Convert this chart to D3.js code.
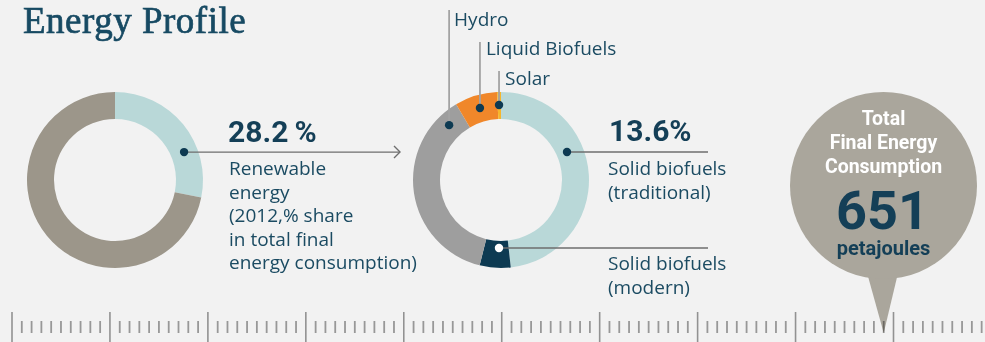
<!DOCTYPE html>
<html>
<head>
<meta charset="utf-8">
<script src="https://cdn.jsdelivr.net/npm/d3@7/dist/d3.min.js"></script>
<style>
  html, body { margin: 0; padding: 0; background: #f2f2f2; }
  svg { display: block; }
  .lbl { font-family: "Open Sans", "DejaVu Sans", sans-serif; font-size: 19px; fill: #1b4b62; }
  .num { font-family: Roboto, "Open Sans", sans-serif; font-weight: 700; fill: #143f57; }
</style>
</head>
<body>
<svg id="chart" width="985" height="342"></svg>
<script>
// Share of renewables in total final energy consumption (2012, %)
const shareCategories = ["Renewable", "Non-renewable"];
const shareValues = [28.2, 71.8];

// Renewable breakdown, % of total final energy consumption
const mixCategories = ["Solid biofuels (traditional)", "Solid biofuels (modern)", "Hydro", "Liquid Biofuels", "Solar"];
const mixValues = [13.6, 1.6, 10.6, 2.2, 0.2];

// Total final energy consumption
const totalValue = 651;
const totalUnit = "petajoules";

// Ruler along the bottom
const rulerTicks = d3.range(0, 100);

const svg = d3.select("#chart");
const W = 985, H = 342;
svg.append("rect").attr("width", W).attr("height", H).attr("fill", "#f2f2f2");

// Title (regular serif, slightly thickened with a stroke)
svg.append("text")
  .attr("x", 23).attr("y", 33)
  .style("font-family", "'Liberation Serif', 'Times New Roman', serif")
  .style("font-size", "37px")
  .style("letter-spacing", "0.5px")
  .attr("fill", "#174a63")
  .attr("stroke", "#174a63")
  .attr("stroke-width", 0.7)
  .text("Energy Profile");

const pie = d3.pie().sort(null).value(d => d);
const arc = d3.arc().innerRadius(61).outerRadius(88);
const rad = d => d * Math.PI / 180;
const polar = (cx, cy, deg, r) => [cx + r * Math.sin(rad(deg)), cy - r * Math.cos(rad(deg))];

// ---- Left donut: renewable share ----
const shareColor = d3.scaleOrdinal().domain(shareCategories).range(["#b9d8d8", "#9c968a"]);
const g1 = svg.append("g").attr("transform", "translate(115,180)");
g1.selectAll("path").data(pie(shareValues)).join("path")
  .attr("d", arc)
  .attr("fill", (d, i) => shareColor(shareCategories[i]));

const dot1 = polar(115, 180, 68, 74.5);
svg.append("line")
  .attr("x1", dot1[0]).attr("y1", dot1[1]).attr("x2", 400).attr("y2", dot1[1])
  .attr("stroke", "#6e6e6e").attr("stroke-width", 1.4);
svg.append("path")
  .attr("d", `M394,${dot1[1] - 6}L400,${dot1[1]}L394,${dot1[1] + 6}`)
  .attr("fill", "none").attr("stroke", "#6e6e6e").attr("stroke-width", 1.4);
svg.append("circle").attr("cx", dot1[0]).attr("cy", dot1[1]).attr("r", 4.2).attr("fill", "#0d3a52");

svg.append("text").attr("class", "num").attr("x", 228).attr("y", 142)
  .style("font-size", "30px").text(d3.format(".1f")(shareValues[0]) + "\u2009%");
const leftLines = ["Renewable", "energy", "(2012,% share", "in total final", "energy consumption)"];
svg.append("text").attr("class", "lbl").attr("x", 229).attr("y", 175)
  .selectAll("tspan").data(leftLines).join("tspan")
  .attr("x", 229).attr("dy", (d, i) => i === 0 ? 0 : 23.6).text(d => d);

// ---- Middle donut: renewable breakdown ----
const mixColor = d3.scaleOrdinal().domain(mixCategories)
  .range(["#b9d8d8", "#0d3a52", "#9e9e9e", "#f0872a", "#f6b62c"]);
const cx2 = 501, cy2 = 180;
const g2 = svg.append("g").attr("transform", `translate(${cx2},${cy2})`);
g2.selectAll("path").data(pie(mixValues)).join("path")
  .attr("d", arc)
  .attr("fill", (d, i) => mixColor(mixCategories[i]));

// Callouts above the ring
const topCallouts = [
  { name: "Hydro", angle: 316.6, r: 75.5, top: 10, ty: 26, dx: 5 },
  { name: "Liquid Biofuels", angle: 343.7, r: 75, top: 42, ty: 55, dx: 6 },
  { name: "Solar", angle: 358.5, r: 75, top: 71, ty: 85, dx: 6 }
];
topCallouts.forEach(c => {
  const p = polar(cx2, cy2, c.angle, c.r);
  svg.append("line").attr("x1", p[0]).attr("x2", p[0]).attr("y1", p[1]).attr("y2", c.top)
    .attr("stroke", "#a3a3a3").attr("stroke-width", 1.8);
  svg.append("circle").attr("cx", p[0]).attr("cy", p[1]).attr("r", 4.2).attr("fill", "#0d3a52");
  svg.append("text").attr("class", "lbl").attr("x", p[0] + c.dx).attr("y", c.ty).text(c.name);
});

// Callouts to the right
const pTrad = polar(cx2, cy2, 67, 71.7);
svg.append("line").attr("x1", pTrad[0]).attr("y1", pTrad[1]).attr("x2", 708).attr("y2", pTrad[1])
  .attr("stroke", "#6e6e6e").attr("stroke-width", 1.4);
svg.append("circle").attr("cx", pTrad[0]).attr("cy", pTrad[1]).attr("r", 4.2).attr("fill", "#0d3a52");
svg.append("text").attr("class", "num").attr("x", 609).attr("y", 141)
  .style("font-size", "30px").text(d3.format(".1f")(mixValues[0]) + "%");
svg.append("text").attr("class", "lbl").attr("x", 608).attr("y", 175)
  .selectAll("tspan").data(["Solid biofuels", "(traditional)"]).join("tspan")
  .attr("x", 608).attr("dy", (d, i) => i === 0 ? 0 : 23.6).text(d => d);

const pMod = polar(cx2, cy2, 181.7, 68);
svg.append("line").attr("x1", pMod[0]).attr("y1", pMod[1]).attr("x2", 708).attr("y2", pMod[1])
  .attr("stroke", "#6e6e6e").attr("stroke-width", 1.4);
svg.append("circle").attr("cx", pMod[0]).attr("cy", pMod[1]).attr("r", 4.2).attr("fill", "#ffffff");
svg.append("text").attr("class", "lbl").attr("x", 608).attr("y", 270)
  .selectAll("tspan").data(["Solid biofuels", "(modern)"]).join("tspan")
  .attr("x", 608).attr("dy", (d, i) => i === 0 ? 0 : 23.6).text(d => d);

// ---- Ruler ----
const xr = d3.scaleLinear().domain([0, 90]).range([12, 893.5]);
const pinAt = 89;

// ---- Pin bubble: total final energy consumption ----
const bx = 883.5, by = 185.5, br = 93.5;
const tipX = xr(pinAt), tipY = 333;
const bubble = svg.append("g");
bubble.append("path")
  .attr("d", `M${bx - 17},${by + br - 8}L${bx + 15},${by + br - 8}L${tipX},${tipY}Z`)
  .attr("fill", "#aaa69c");
bubble.append("circle").attr("cx", bx).attr("cy", by).attr("r", br).attr("fill", "#aaa69c");
const headLines = ["Total", "Final Energy", "Consumption"];
bubble.append("text").attr("text-anchor", "middle")
  .style("font-family", "Roboto, sans-serif").style("font-weight", 700).style("font-size", "19.5px")
  .attr("fill", "#ffffff")
  .selectAll("tspan").data(headLines).join("tspan")
  .attr("x", bx).attr("y", (d, i) => 125 + i * 24).text(d => d);
bubble.append("text").attr("class", "num").attr("text-anchor", "middle")
  .attr("x", bx - 1).attr("y", 229).style("font-size", "54px").text(totalValue);
bubble.append("text").attr("class", "num").attr("text-anchor", "middle")
  .attr("x", bx).attr("y", 255).style("font-size", "20px").text(totalUnit);

// Ruler ticks drawn over the pin tip
const ruler = svg.append("g").style("mix-blend-mode", "multiply");
ruler.selectAll("line").data(rulerTicks).join("line")
  .attr("x1", d => xr(d)).attr("x2", d => xr(d))
  .attr("y1", d => d % 10 === 0 ? 312 : 321)
  .attr("y2", d => d % 10 === 0 ? 342 : 333)
  .attr("stroke", d => d % 10 === 0 ? "#9a9a9a" : "#a0a0a0")
  .attr("stroke-width", d => d % 10 === 0 ? 1.6 : 1.8);
</script>
</body>
</html>
